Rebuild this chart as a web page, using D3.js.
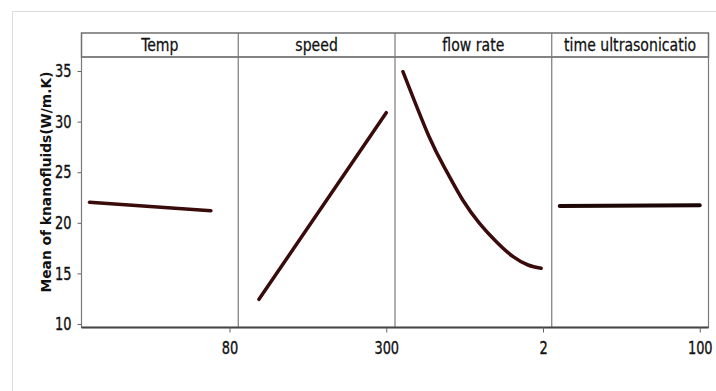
<!DOCTYPE html>
<meta charset="utf-8">
<style>
    body { margin: 0; background: #fff; }
    text { font-family: "DejaVu Sans Condensed", "Liberation Sans", sans-serif; fill: #111; }
    .ylabel { font-family: "DejaVu Sans", Verdana, sans-serif; font-weight: bold; }
    .narrow { transform-box: fill-box; transform-origin: center; transform: scaleX(0.8); stroke: #111; stroke-width: 0.35px; }
    .head { transform-box: fill-box; transform-origin: center; transform: scaleX(0.92); stroke: #111; stroke-width: 0.25px; }
</style>
<svg width="716" height="391"></svg>
<script src="https://d3js.org/d3.v7.min.js"></script>
<script>

    // factor names (panel headers) and the tick shown under each panel
    var factors = ["Temp", "speed", "flow rate", "time ultrasonicatio"];
    var tickLabels = ["80", "300", "2", "100"];
    var tickValues = [80, 300, 2, 100];

    // x extent of every panel, in factor units
    var xDomains = [[20, 80], [80, 300], [0.5, 2], [20, 100]];

    // main effect series (mean of knanofluids)
    var tempX = [20, 72];
    var tempMean = [22.03, 21.2];
    var speedX = [100, 300];
    var speedMean = [12.44, 30.88];
    var flowX = [0.5, 0.78, 0.96, 1.14, 1.32, 1.5, 1.68, 1.84, 1.98];
    var flowMean = [34.93, 28.5, 25.2, 22.25, 19.95, 18.13, 16.65, 15.83, 15.5];
    var timeX = [20, 100];
    var timeMean = [21.66, 21.73];

    var yTicks = [10, 15, 20, 25, 30, 35];

    var series = [
        { xs: tempX, ys: tempMean },
        { xs: speedX, ys: speedMean },
        { xs: flowX, ys: flowMean },
        { xs: timeX, ys: timeMean }
    ];

    var svg = d3.select("svg");

    // light outer frame
    svg.append("path")
        .attr("d", "M12.5,391 V11.5 H716")
        .attr("fill", "none")
        .attr("stroke", "#dcdcdc")
        .attr("stroke-width", 1);

    var left = 81.5, right = 708.5, headTop = 33, plotTop = 57, plotBottom = 327.5;

    var panel = d3.scaleBand()
        .domain(factors)
        .range([left, right])
        .padding(0);

    var y = d3.scaleLinear()
        .domain([10, 35])
        .range([324, 71]);

    // header strip
    svg.append("rect")
        .attr("x", left)
        .attr("y", headTop)
        .attr("width", right - left)
        .attr("height", plotTop - headTop)
        .attr("fill", "#fff")
        .attr("stroke", "#6f6f6f")
        .attr("stroke-width", 1.5);

    svg.selectAll("text.head")
        .data(factors)
        .enter()
        .append("text")
        .attr("class", "head")
        .attr("x", function(d) { return panel(d) + panel.bandwidth() / 2; })
        .attr("y", 51)
        .attr("text-anchor", "middle")
        .attr("font-size", 17)
        .text(function(d) { return d; });

    // plot box
    svg.append("rect")
        .attr("x", left)
        .attr("y", plotTop)
        .attr("width", right - left)
        .attr("height", plotBottom - plotTop)
        .attr("fill", "none")
        .attr("stroke", "#7a7a7a")
        .attr("stroke-width", 1.2);

    // panel dividers
    svg.selectAll("line.div")
        .data(factors.slice(1))
        .enter()
        .append("line")
        .attr("class", "div")
        .attr("x1", function(d) { return panel(d); })
        .attr("x2", function(d) { return panel(d); })
        .attr("y1", headTop)
        .attr("y2", plotBottom)
        .attr("stroke", "#7a7a7a")
        .attr("stroke-width", 1.2);

    // darker bottom axis line
    svg.append("line")
        .attr("x1", left)
        .attr("x2", right)
        .attr("y1", plotBottom)
        .attr("y2", plotBottom)
        .attr("stroke", "#444")
        .attr("stroke-width", 1.8);

    // y axis
    var yAxis = svg.append("g")
        .attr("transform", "translate(" + left + ",0)")
        .call(d3.axisLeft(y).tickValues(yTicks).tickSize(4).tickPadding(4));
    yAxis.select(".domain").remove();
    yAxis.selectAll("line").attr("stroke", "#666");
    yAxis.selectAll("text")
        .attr("class", "narrow")
        .attr("font-size", 18)
        .attr("font-family", null)
        .attr("fill", "#111");

    svg.append("text")
        .attr("class", "ylabel")
        .attr("transform", "translate(51,182) rotate(-90)")
        .attr("text-anchor", "middle")
        .attr("font-size", 13.8)
        .text("Mean of knanofluids(W/m.K)");

    // each panel: its own x scale, line and bottom tick
    factors.forEach(function(f, i) {
        var x = d3.scaleLinear()
            .domain(xDomains[i])
            .range([8, panel.bandwidth() - 8.75]);

        var g = svg.append("g")
            .attr("transform", "translate(" + panel(f) + ",0)");

        var pts = series[i].xs.map(function(v, k) { return [v, series[i].ys[k]]; });

        g.append("path")
            .datum(pts)
            .attr("fill", "none")
            .attr("stroke", i === 3 ? "#1c0606" : "#3a0b0b")
            .attr("stroke-width", i === 3 ? 4 : 3.5)
            .attr("stroke-linecap", "round")
            .attr("d", d3.line()
                .curve(d3.curveNatural)
                .x(function(d) { return x(d[0]); })
                .y(function(d) { return y(d[1]); }));

        var ax = g.append("g")
            .attr("transform", "translate(0," + plotBottom + ")")
            .call(d3.axisBottom(x).tickValues([tickValues[i]]).tickSize(5).tickPadding(9)
                .tickFormat(function() { return tickLabels[i]; }));
        ax.select(".domain").remove();
        ax.selectAll("line").attr("stroke", "#666");
        ax.selectAll("text")
            .attr("class", "narrow")
            .attr("font-size", 18)
            .attr("font-family", null)
            .attr("fill", "#111");
    });

</script>
